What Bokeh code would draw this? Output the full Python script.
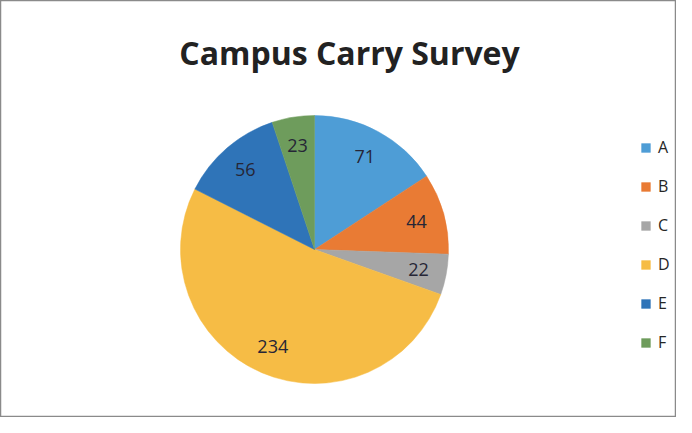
import math
from bokeh.plotting import figure
from bokeh.models import Range1d, ColumnDataSource, Legend, LegendItem, Label
from bokeh.core.properties import value
from bokeh.embed import file_html
from bokeh.resources import INLINE

title_text = "Campus Carry Survey"
categories = ["A", "B", "C", "D", "E", "F"]
counts = [71, 44, 22, 234, 56, 23]
colors = ["#4e9dd6", "#e97b34", "#a6a6a6", "#f6bc45", "#2f74b8", "#6e9c5c"]

W, H = 676, 417
p = figure(width=W, height=H, output_backend="svg", toolbar_location=None,
           x_range=Range1d(0, W), y_range=Range1d(0, H), min_border=0)
p.axis.visible = False
p.grid.visible = False
p.outline_line_color = "#8a8a8a"
p.outline_line_width = 1.5
p.background_fill_color = "white"

cx, cy, r = 314, 168, 134
total = sum(counts)
starts, ends, lx, ly, txt = [], [], [], [], []
cum = 0.0
for c in counts:
    a0 = math.pi / 2 - 2 * math.pi * cum / total
    a1 = math.pi / 2 - 2 * math.pi * (cum + c) / total
    starts.append(a0)
    ends.append(a1)
    mid = (a0 + a1) / 2
    lx.append(cx + 0.79 * r * math.cos(mid))
    ly.append(cy + 0.79 * r * math.sin(mid))
    txt.append(str(c))
    cum += c

src = ColumnDataSource(dict(start=starts, end=ends, color=colors, cat=categories,
                            lx=lx, ly=ly, txt=txt))
renderers = []
for i in range(len(counts)):
    rr = p.wedge(x=cx, y=cy, radius=r, start_angle=starts[i], end_angle=ends[i],
                 direction="clock", fill_color=colors[i], line_color=colors[i], line_width=0.5)
    renderers.append(rr)

p.text(x="lx", y="ly", text="txt", source=src, text_align="center", text_baseline="middle",
       text_font=value("Open Sans"), text_font_size="18px", text_color="#262636")

p.add_layout(Label(x=349, y=H - 52, x_units="screen", y_units="screen", text=title_text,
                   text_font="Open Sans", text_font_size="32px", text_font_style="bold",
                   text_color="#222222", text_align="center", text_baseline="alphabetic"))

legend = Legend(items=[LegendItem(label=categories[i], renderers=[renderers[i]]) for i in range(len(categories))],
                location=(640, 64), orientation="vertical",
                glyph_width=11, glyph_height=11, label_height=22, spacing=17,
                label_text_font="Open Sans", label_text_font_size="16px", label_text_color="#262626",
                border_line_color=None, background_fill_alpha=0, padding=0, margin=0,
                label_standoff=7)
p.add_layout(legend)

open("out.html", "w").write(file_html(p, INLINE))
